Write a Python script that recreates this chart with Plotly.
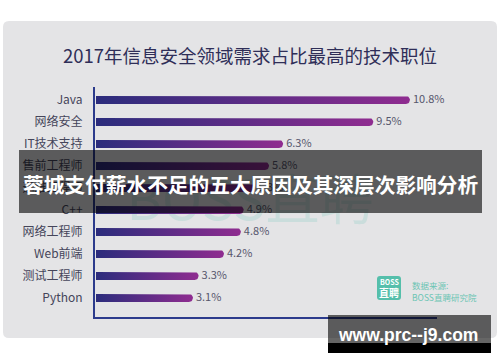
import numpy as np
import plotly.graph_objects as go

# ---- data ----
categories = ["Java", "网络安全", "IT技术支持", "售前工程师", "运维工程师",
              "C++", "网络工程师", "Web前端", "测试工程师", "Python"]
shares = [10.8, 9.5, 6.3, 5.8, 5.3, 4.9, 4.8, 4.2, 3.3, 3.1]
value_labels = [f"{v}%" for v in shares]
title_text = "2017年信息安全领域需求占比最高的技术职位"
banner_text = "蓉城支付薪水不足的五大原因及其深层次影响分析"
site_text = "www.prc--j9.com"

W, H = 500, 362
FONT = "Noto Sans CJK SC, Noto Sans, sans-serif"

# pixel geometry of plotting area
PX_L, PX_R = 95, 437
PY_T, PY_B = 87, 317
X0, K = 105.6, 28.18      # px of value 0, px per percent
ROW0, ROWH = 100, 22      # px of first row centre, row spacing
BAR_HALF = 4              # half bar thickness, px
BAR_START = 96
LABEL_GAP = 3             # px between bar end and value label

xr = [(PX_L - X0) / K, (PX_R - X0) / K]
yr = [(PY_B - ROW0) / ROWH, (PY_T - ROW0) / ROWH]


def px2x(p):
    return (p - X0) / K


def bar_polygon(i, v):
    e = X0 + K * v
    cx = e - BAR_HALF
    xs = [BAR_START, cx]
    ys = [-BAR_HALF, -BAR_HALF]
    for t in np.linspace(-np.pi / 2, np.pi / 2, 15):
        xs.append(cx + BAR_HALF * np.cos(t))
        ys.append(BAR_HALF * np.sin(t))
    xs += [cx, BAR_START, BAR_START]
    ys += [BAR_HALF, BAR_HALF, -BAR_HALF]
    return [px2x(p) for p in xs], [i + d / ROWH for d in ys]


fig = go.Figure()

# faint watermark behind bars
fig.add_trace(go.Scatter(
    x=[px2x(250)], y=[(206 - ROW0) / ROWH], mode="text", text=["BOSS直聘"],
    textfont=dict(size=54, color="rgba(70,185,165,0.16)", family=FONT),
    hoverinfo="skip", showlegend=False))

for i, (c, v) in enumerate(zip(categories, shares)):
    xs, ys = bar_polygon(i, v)
    fig.add_trace(go.Scatter(
        x=xs, y=ys, mode="lines", fill="toself", line=dict(width=0),
        fillgradient=dict(type="horizontal",
                          colorscale=[[0, "#2b2c7c"], [1, "#8f2c90"]]),
        hoverinfo="skip", showlegend=False, name=c))

fig.add_trace(go.Scatter(
    x=[v + LABEL_GAP / K for v in shares], y=list(range(len(shares))),
    mode="text", text=value_labels, textposition="middle right",
    cliponaxis=False,
    textfont=dict(size=11, color="#56566c", family=FONT),
    hoverinfo="skip", showlegend=False))


def pxx(p):
    return p / W


def pxy(p):
    return 1 - p / H


def rounded_rect(x0, y0, x1, y1, r):
    a, b, c, d = pxx(x0), pxy(y0), pxx(x1), pxy(y1)
    rx, ry = r / W, r / H
    return (f"M{a+rx},{b} L{c-rx},{b} Q{c},{b} {c},{b-ry} L{c},{d+ry} "
            f"Q{c},{d} {c-rx},{d} L{a+rx},{d} Q{a},{d} {a},{d+ry} "
            f"L{a},{b-ry} Q{a},{b} {a+rx},{b} Z")


shapes = [
    dict(type="path", xref="paper", yref="paper", layer="below",
         path=rounded_rect(3, 21, 497, 338, 6),
         fillcolor="#e4e4e6", line=dict(width=0)),
    dict(type="path", xref="paper", yref="paper", layer="above",
         path=rounded_rect(377, 276, 401, 300, 3),
         fillcolor="#55bfab", line=dict(width=0)),
    dict(type="rect", xref="paper", yref="paper", layer="above",
         x0=pxx(19), x1=pxx(482), y0=pxy(213), y1=pxy(150),
         fillcolor="rgba(0,0,0,0.6)", line=dict(width=0)),
    dict(type="rect", xref="paper", yref="paper", layer="above",
         x0=pxx(328), x1=pxx(491), y0=pxy(343), y1=pxy(315),
         fillcolor="rgba(0,0,0,0.6)", line=dict(width=0)),
    dict(type="rect", xref="paper", yref="paper", layer="above",
         x0=pxx(328), x1=pxx(491), y0=pxy(353), y1=pxy(343),
         fillcolor="#000000", line=dict(width=0)),
]

annotations = [
    dict(text=title_text, xref="paper", yref="paper", x=pxx(250), y=pxy(55),
         showarrow=False, xanchor="center", yanchor="middle",
         font=dict(size=18.5, color="#2f2e58", family=FONT)),
    dict(text="<b>BOSS</b>", xref="paper", yref="paper", x=pxx(389), y=pxy(282),
         showarrow=False, xanchor="center", yanchor="middle",
         font=dict(size=7, color="white", family=FONT)),
    dict(text="<b>直聘</b>", xref="paper", yref="paper", x=pxx(389), y=pxy(292),
         showarrow=False, xanchor="center", yanchor="middle",
         font=dict(size=10, color="white", family=FONT)),
    dict(text="数据来源:", xref="paper", yref="paper", x=pxx(410), y=pxy(285),
         showarrow=False, xanchor="left", yanchor="middle",
         font=dict(size=8.5, color="#6cc4b4", family=FONT)),
    dict(text="BOSS直聘研究院", xref="paper", yref="paper", x=pxx(410), y=pxy(297),
         showarrow=False, xanchor="left", yanchor="middle",
         font=dict(size=8.5, color="#6cc4b4", family=FONT)),
    dict(text=f"<b>{banner_text}</b>", xref="paper", yref="paper",
         x=pxx(250), y=pxy(184), showarrow=False, xanchor="center",
         yanchor="middle", font=dict(size=20.7, color="white", family=FONT)),
    dict(text=f"<b>{site_text}</b>", xref="paper", yref="paper",
         x=pxx(408), y=pxy(335), showarrow=False, xanchor="center",
         yanchor="middle",
         font=dict(size=17.5, color="white", family="Liberation Sans, Arial, sans-serif")),
]

fig.update_layout(
    width=W, height=H, margin=dict(l=0, r=0, t=0, b=0, pad=0),
    paper_bgcolor="white", plot_bgcolor="rgba(0,0,0,0)",
    shapes=shapes, annotations=annotations, showlegend=False,
    xaxis=dict(domain=[PX_L / W, PX_R / W], range=xr, showgrid=False,
               zeroline=False, showticklabels=False, ticks="",
               showline=True, linecolor="#2c3b8c", linewidth=2,
               fixedrange=True),
    yaxis=dict(domain=[1 - PY_B / H, 1 - PY_T / H], range=yr, showgrid=False,
               zeroline=False, tickmode="array",
               tickvals=list(range(len(categories))), ticktext=categories,
               ticks="", ticklabelstandoff=8,
               tickfont=dict(size=12, color="#45455a", family=FONT),
               showline=True, linecolor="#2c3b8c", linewidth=2,
               fixedrange=True),
)

fig.write_html("out.html", config={"displayModeBar": False},
               post_script="document.body.style.margin='0px';"
                           "document.body.style.overflow='hidden';")
